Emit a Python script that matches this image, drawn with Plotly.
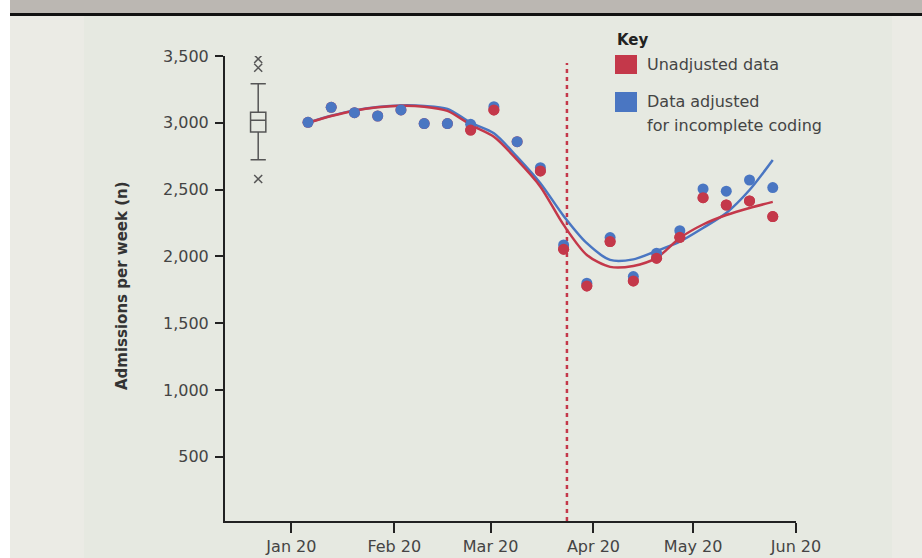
import plotly.graph_objects as go
import numpy as np

# ---------------- data ----------------
weeks = ['2020-01-06', '2020-01-13', '2020-01-20', '2020-01-27', '2020-02-03',
         '2020-02-10', '2020-02-17', '2020-02-24', '2020-03-02', '2020-03-09',
         '2020-03-16', '2020-03-23', '2020-03-30', '2020-04-06', '2020-04-13',
         '2020-04-20', '2020-04-27', '2020-05-04', '2020-05-11', '2020-05-18',
         '2020-05-25']
unadjusted = [3004, 3116, 3076, 3051, 3096, 2994, 2994, 2946, 3096, 2859, 2640,
              2054, 1779, 2111, 1817, 1987, 2143, 2440, 2385, 2415, 2298]
adjusted = [3004, 3116, 3076, 3051, 3096, 2994, 2994, 2989, 3121, 2859, 2664,
            2086, 1800, 2141, 1849, 2024, 2193, 2505, 2488, 2572, 2515]
unadjusted_fit = [3000, 3051, 3091, 3116, 3128, 3121, 3089, 2984, 2895, 2722, 2522,
                  2236, 2011, 1922, 1929, 1989, 2138, 2239, 2310, 2363, 2408]
adjusted_fit = [3002, 3053, 3093, 3118, 3130, 3126, 3104, 3001, 2922, 2745, 2548,
                2303, 2099, 1974, 1978, 2041, 2111, 2213, 2325, 2497, 2722]

# reference-period box plot (previous years)
box_date = '2019-12-22'
box_q1, box_median, box_q3 = 2931, 3019, 3079
box_low, box_high = 2724, 3293
box_outliers = [3478, 3412, 2580]

lockdown_date = '2020-03-24'
lockdown_top = 3448

tick_dates = ['2020-01-01', '2020-02-01', '2020-03-01', '2020-04-01', '2020-05-01', '2020-06-01']
tick_labels = ['Jan 20', 'Feb 20', 'Mar 20', 'Apr 20', 'May 20', 'Jun 20']
y_ticks = [500, 1000, 1500, 2000, 2500, 3000, 3500]
y_labels = ['500', '1,000', '1,500', '2,000', '2,500', '3,000', '3,500']

RED = '#c4384a'
BLUE = '#4a76c2'
FONT = 'DejaVu Sans'
TXT = '#444444'

# ---------------- layout geometry (pixels) ----------------
WIDTH, HEIGHT = 922, 558
L, R, T, B = 225, 796, 56, 521
PW, PH = R - L, B - T


def fx(px):
    return (px - L) / PW


def fy(py):
    return (B - py) / PH


fig = go.Figure()

# lockdown line
fig.add_trace(go.Scatter(x=[lockdown_date, lockdown_date], y=[20, lockdown_top],
                         mode='lines', line=dict(color=RED, width=2.5, dash='4px,4px'),
                         hoverinfo='skip'))

# fitted curves
fig.add_trace(go.Scatter(x=weeks, y=adjusted_fit, mode='lines',
                         line=dict(color=BLUE, width=2.5, shape='spline', smoothing=0.8)))
fig.add_trace(go.Scatter(x=weeks, y=unadjusted_fit, mode='lines',
                         line=dict(color=RED, width=2.5, shape='spline', smoothing=0.8)))

# points: red under blue, then red on top where they differ
un = np.array(unadjusted)
ad = np.array(adjusted)
wk = np.array(weeks)
diff = un != ad
fig.add_trace(go.Scatter(x=weeks, y=unadjusted, mode='markers',
                         marker=dict(color=RED, size=11)))
fig.add_trace(go.Scatter(x=weeks, y=adjusted, mode='markers',
                         marker=dict(color=BLUE, size=11)))
fig.add_trace(go.Scatter(x=list(wk[diff]), y=list(un[diff]), mode='markers',
                         marker=dict(color=RED, size=11)))

# box plot
fig.add_trace(go.Box(x=[box_date], q1=[box_q1], median=[box_median], q3=[box_q3],
                     lowerfence=[box_low], upperfence=[box_high],
                     width=4.6 * 86400000, whiskerwidth=1,
                     line=dict(color='#555555', width=1.5),
                     fillcolor='rgba(0,0,0,0)', boxpoints=False))
fig.add_trace(go.Scatter(x=[box_date] * len(box_outliers), y=box_outliers, mode='markers',
                         marker=dict(symbol='x-thin', size=8, color='#555555',
                                     line=dict(color='#555555', width=1.5))))

# background shapes
shapes = [
    dict(type='rect', xref='paper', yref='paper', x0=fx(84), x1=fx(892), y0=fy(HEIGHT), y1=fy(16),
         fillcolor='#e6e9e1', line=dict(width=0), layer='below'),
    dict(type='rect', xref='paper', yref='paper', x0=fx(10), x1=fx(WIDTH), y0=fy(13), y1=fy(0),
         fillcolor='#bbb7b2', line=dict(width=0), layer='below'),
    dict(type='rect', xref='paper', yref='paper', x0=fx(10), x1=fx(WIDTH), y0=fy(16), y1=fy(13),
         fillcolor='#111111', line=dict(width=0), layer='below'),
    dict(type='rect', xref='paper', yref='paper', x0=fx(0), x1=fx(10), y0=fy(HEIGHT), y1=fy(0),
         fillcolor='#ffffff', line=dict(width=0), layer='below'),
    # legend swatches
    dict(type='rect', xref='paper', yref='paper', x0=fx(615), x1=fx(637), y0=fy(74), y1=fy(55),
         fillcolor=RED, line=dict(width=0)),
    dict(type='rect', xref='paper', yref='paper', x0=fx(615), x1=fx(637), y0=fy(112), y1=fy(92),
         fillcolor=BLUE, line=dict(width=0)),
]

annotations = [
    dict(text='<b>Key</b>', x=fx(615), y=fy(40), xref='paper', yref='paper', xanchor='left',
         yanchor='middle', showarrow=False, font=dict(family=FONT, size=15, color='#222222')),
    dict(text='Unadjusted data', x=fx(645), y=fy(64), xref='paper', yref='paper', xanchor='left',
         yanchor='middle', showarrow=False, font=dict(family=FONT, size=16, color=TXT)),
    dict(text='Data adjusted', x=fx(645), y=fy(102), xref='paper', yref='paper', xanchor='left',
         yanchor='middle', showarrow=False, font=dict(family=FONT, size=16, color=TXT)),
    dict(text='for incomplete coding', x=fx(645), y=fy(125), xref='paper', yref='paper',
         xanchor='left', yanchor='middle', showarrow=False,
         font=dict(family=FONT, size=16, color=TXT)),
    dict(text='<b>Admissions per week (n)</b>', x=fx(122), y=fy(286), xref='paper', yref='paper',
         xanchor='center', yanchor='middle', textangle=-90, showarrow=False,
         font=dict(family=FONT, size=15, color='#333333')),
]

fig.update_layout(
    width=WIDTH, height=HEIGHT,
    margin=dict(l=L, r=WIDTH - R, t=T, b=HEIGHT - B, autoexpand=False),
    paper_bgcolor='#ebebe5', plot_bgcolor='rgba(0,0,0,0)',
    showlegend=False,
    shapes=shapes, annotations=annotations,
    font=dict(family=FONT, size=16, color=TXT),
    xaxis=dict(type='date', range=['2019-12-12', '2020-06-01'],
               tickvals=tick_dates, ticktext=tick_labels, automargin=False,
               showgrid=False, zeroline=False,
               showline=True, linecolor='#222222', linewidth=2,
               ticks='outside', ticklen=10, tickwidth=2, tickcolor='#222222',
               tickfont=dict(family=FONT, size=16, color=TXT)),
    yaxis=dict(range=[20, 3500], tickvals=y_ticks, ticktext=y_labels, automargin=False,
               showgrid=False, zeroline=False, ticklabelstandoff=3,
               showline=True, linecolor='#222222', linewidth=2,
               ticks='outside', ticklen=8, tickwidth=2, tickcolor='#222222',
               tickfont=dict(family=FONT, size=16, color=TXT)),
)

fig.write_html('out.html', config={'displayModeBar': False},
               post_script="document.body.style.margin='0px';document.body.style.overflow='hidden';")
